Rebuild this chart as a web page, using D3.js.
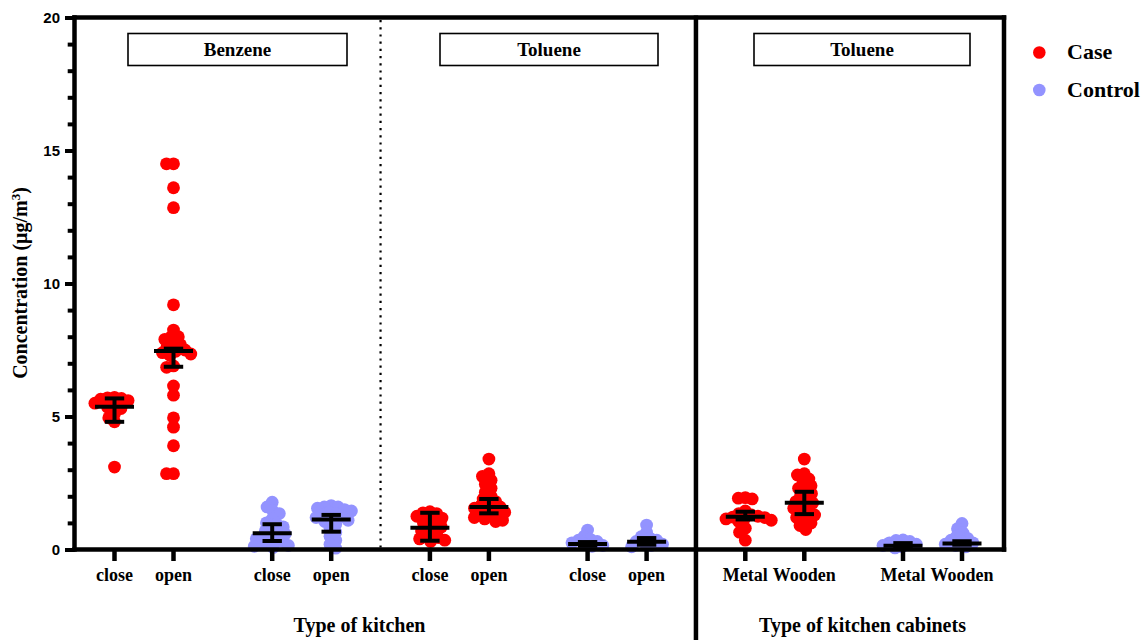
<!DOCTYPE html>
<html>
<head>
<meta charset="utf-8">
<script src="https://cdn.jsdelivr.net/npm/d3@7"></script>
<style>
  html, body { margin: 0; padding: 0; background: #fff; }
  svg { display: block; }
  .serif { font-family: "Liberation Serif", "Times New Roman", serif; font-weight: bold; }
  .sans { font-family: "Liberation Sans", Arial, sans-serif; font-weight: bold; }
</style>
</head>
<body>
<svg id="chart" width="1148" height="640"></svg>
<script>
// ---- data -------------------------------------------------------------
const yTicks = [0, 5, 10, 15, 20];
const yMinorTicks = d3.range(0, 21, 1);

const categoryLabels = ["close", "open", "close", "open", "close", "open", "close", "open",
                        "Metal", "Wooden", "Metal", "Wooden"];
const columnSeries = ["Case", "Case", "Control", "Control", "Case", "Case", "Control", "Control",
                      "Case", "Case", "Control", "Control"];
const pairGroups = ["g1", "g2", "g3", "g4", "g5", "g6"];
const seriesNames = ["Case", "Control"];
const panelTitles = ["Benzene", "Toluene", "Toluene"];
const axisTitles = ["Type of kitchen", "Type of kitchen cabinets"];

// Benzene (µg/m3) by kitchen type
const benzeneCaseClose = [5.72, 5.7, 5.68, 5.65, 5.6, 5.5, 5.4, 5.35, 5.3, 5.1, 4.95, 4.8, 3.1];
const benzeneCaseOpen = [14.5, 14.5, 13.6, 12.85, 9.2, 8.25, 8.0, 8.0, 7.9, 7.7, 7.7, 7.6, 7.5,
                         7.45, 7.4, 7.35, 7.3, 6.9, 6.85, 6.15, 5.8, 4.95, 4.6, 3.9, 2.85, 2.85];
const benzeneControlClose = [1.78, 1.6, 1.45, 1.35, 1.15, 1.0, 0.95, 0.85, 0.75, 0.7, 0.62, 0.58,
                             0.5, 0.45, 0.4, 0.35, 0.3, 0.25, 0.2, 0.15, 0.12, 0.08];
const benzeneControlOpen = [1.65, 1.6, 1.6, 1.55, 1.5, 1.45, 1.4, 1.35, 1.3, 1.25, 1.2, 1.15, 1.1,
                            1.05, 0.95, 0.8, 0.65, 0.5, 0.35, 0.2, 0.05];
// Toluene (µg/m3) by kitchen type
const tolueneCaseClose = [1.42, 1.38, 1.35, 1.25, 1.18, 1.1, 1.0, 0.9, 0.85, 0.8, 0.7, 0.6, 0.5,
                          0.45, 0.4, 0.35, 0.3];
const tolueneCaseOpen = [3.4, 2.85, 2.75, 2.6, 2.45, 2.3, 2.15, 2.0, 1.9, 1.8, 1.7, 1.65, 1.6, 1.55,
                         1.5, 1.45, 1.4, 1.35, 1.3, 1.25, 1.2, 1.15, 1.1, 1.05];
const tolueneControlClose = [0.73, 0.5, 0.38, 0.35, 0.3, 0.25, 0.2, 0.15, 0.12];
const tolueneControlOpen = [0.92, 0.65, 0.48, 0.42, 0.35, 0.3, 0.25, 0.2, 0.15, 0.1];
// Toluene (µg/m3) by kitchen cabinet material
const tolueneCaseMetal = [1.95, 1.93, 1.9, 1.45, 1.35, 1.3, 1.25, 1.22, 1.2, 1.18, 1.15, 1.1, 1.05,
                          0.8, 0.65, 0.35];
const tolueneCaseWooden = [3.4, 2.85, 2.8, 2.65, 2.5, 2.4, 2.3, 2.2, 2.1, 2.0, 1.9, 1.8, 1.75, 1.65,
                           1.55, 1.45, 1.35, 1.3, 1.2, 1.1, 1.0, 0.9, 0.75];
const tolueneControlMetal = [0.36, 0.34, 0.3, 0.25, 0.2, 0.15, 0.1, 0.06];
const tolueneControlWooden = [0.98, 0.78, 0.62, 0.5, 0.42, 0.35, 0.3, 0.25, 0.2, 0.15, 0.1];

// median with interquartile range for each column
const medians = [5.37, 7.46, 0.61, 1.13, 0.82, 1.60, 0.21, 0.29, 1.23, 1.76, 0.14, 0.23];
const lowerQuartiles = [4.80, 6.87, 0.32, 0.67, 0.33, 1.36, 0.14, 0.18, 1.13, 1.33, 0.08, 0.18];
const upperQuartiles = [5.68, 7.55, 0.95, 1.30, 1.38, 1.90, 0.28, 0.43, 1.42, 2.17, 0.24, 0.31];

const columns = [benzeneCaseClose, benzeneCaseOpen, benzeneControlClose, benzeneControlOpen,
                 tolueneCaseClose, tolueneCaseOpen, tolueneControlClose, tolueneControlOpen,
                 tolueneCaseMetal, tolueneCaseWooden, tolueneControlMetal, tolueneControlWooden];

// ---- layout -----------------------------------------------------------
const svg = d3.select("#chart");
const plot = { left: 74.5, right: 1004, top: 17.5, bottom: 549.5 };
const colors = { Case: "#FF0000", Control: "#9393FF" };
const pointRadius = 6.4;
const AXIS_W = 4.5;

const y = d3.scaleLinear().domain([0, 20]).range([plot.bottom, plot.top]);
const groupX = d3.scalePoint().domain(pairGroups).range([144, 932.5]);
const memberX = d3.scalePoint().domain([0, 1]).range([-29.5, 29.5]);
const colX = i => groupX(pairGroups[Math.floor(i / 2)]) + memberX(i % 2);
const color = d3.scaleOrdinal().domain(seriesNames).range([colors.Case, colors.Control]);

// scatter positions: points with close values are spread sideways
function swarm(values, D) {
  const pts = values.map(v => ({ v, py: y(v) })).sort((a, b) => a.py - b.py);
  const placed = [];
  for (const p of pts) {
    const near = placed.filter(q => Math.abs(q.py - p.py) < D);
    const cands = [0];
    near.forEach(q => {
      const dx = Math.sqrt(D * D - (q.py - p.py) ** 2);
      cands.push(q.dx + dx, q.dx - dx);
    });
    cands.sort((a, b) => Math.abs(a) - Math.abs(b) || a - b);
    let best = 0;
    for (const c of cands) {
      if (near.every(q => (q.dx - c) ** 2 + (q.py - p.py) ** 2 >= D * D - 1e-6)) { best = c; break; }
    }
    p.dx = best;
    placed.push(p);
  }
  return placed;
}

// ---- points -----------------------------------------------------------
const pointLayer = svg.append("g");
columns.forEach((vals, i) => {
  const pts = swarm(vals, 7);
  pointLayer.selectAll(null).data(pts).enter().append("circle")
    .attr("cx", d => colX(i) + d.dx)
    .attr("cy", d => y(d.v))
    .attr("r", pointRadius)
    .attr("fill", color(columnSeries[i]));
});

// ---- median + IQR -----------------------------------------------------
const bars = svg.append("g").attr("stroke", "#000").attr("stroke-width", 4);
columns.forEach((vals, i) => {
  const cx = colX(i);
  bars.append("line").attr("x1", cx).attr("x2", cx)
    .attr("y1", y(lowerQuartiles[i])).attr("y2", y(upperQuartiles[i]));
  [lowerQuartiles[i], upperQuartiles[i]].forEach(v => {
    bars.append("line").attr("x1", cx - 9.7).attr("x2", cx + 9.7).attr("y1", y(v)).attr("y2", y(v));
  });
  bars.append("line").attr("x1", cx - 19.5).attr("x2", cx + 19.5)
    .attr("y1", y(medians[i])).attr("y2", y(medians[i]));
});

// ---- separators -------------------------------------------------------
const dotX = (colX(3) + colX(4)) / 2;
svg.append("line").attr("x1", dotX).attr("x2", dotX).attr("y1", 20).attr("y2", plot.bottom - 2)
  .attr("stroke", "#000").attr("stroke-width", 2.2).attr("stroke-dasharray", "2.2,5");
const sepX = (colX(7) + colX(8)) / 2;
svg.append("line").attr("x1", sepX).attr("x2", sepX).attr("y1", plot.top - 2).attr("y2", 640)
  .attr("stroke", "#000").attr("stroke-width", AXIS_W);

// ---- frame and axes ---------------------------------------------------
const frame = svg.append("g").attr("stroke", "#000").attr("stroke-width", AXIS_W).attr("stroke-linecap", "square");
frame.append("line").attr("x1", plot.left).attr("x2", plot.right).attr("y1", plot.top).attr("y2", plot.top);
frame.append("line").attr("x1", plot.right).attr("x2", plot.right).attr("y1", plot.top).attr("y2", plot.bottom);
frame.append("line").attr("x1", plot.left).attr("x2", plot.right).attr("y1", plot.bottom).attr("y2", plot.bottom);
frame.append("line").attr("x1", plot.left).attr("x2", plot.left).attr("y1", plot.top).attr("y2", plot.bottom);

const yMinor = svg.append("g").attr("transform", `translate(${plot.left},0)`)
  .call(d3.axisLeft(y).tickValues(yMinorTicks).tickSize(6.8).tickFormat(""));
yMinor.select(".domain").remove();
yMinor.selectAll(".tick line").attr("stroke-width", 4);

const yAxis = svg.append("g").attr("transform", `translate(${plot.left},0)`)
  .call(d3.axisLeft(y).tickValues(yTicks).tickSize(9.5).tickPadding(5));
yAxis.select(".domain").remove();
yAxis.selectAll(".tick line").attr("stroke-width", 4);
yAxis.selectAll(".tick text").attr("class", "sans").attr("font-size", 15).attr("fill", "#000");

// category ticks and labels
const xTicks = svg.append("g");
categoryLabels.forEach((lab, i) => {
  const cx = colX(i);
  xTicks.append("line").attr("x1", cx).attr("x2", cx).attr("y1", plot.bottom).attr("y2", 561)
    .attr("stroke", "#000").attr("stroke-width", AXIS_W);
  xTicks.append("text").attr("class", "serif").attr("x", cx).attr("y", 581)
    .attr("text-anchor", "middle").attr("font-size", 18).text(lab);
});

// ---- panel title boxes ------------------------------------------------
const panelBoxes = [[128, 347], [440, 658], [754, 970]];
panelTitles.forEach((t, i) => {
  const [x0, x1] = panelBoxes[i];
  svg.append("rect").attr("x", x0).attr("y", 33.5).attr("width", x1 - x0).attr("height", 32)
    .attr("fill", "#fff").attr("stroke", "#000").attr("stroke-width", 1.6);
  svg.append("text").attr("class", "serif").attr("x", (x0 + x1) / 2).attr("y", 56)
    .attr("text-anchor", "middle").attr("font-size", 19).text(t);
});

// ---- axis titles ------------------------------------------------------
svg.append("text").attr("class", "serif").attr("x", 359.5).attr("y", 632)
  .attr("text-anchor", "middle").attr("font-size", 20).text(axisTitles[0]);
svg.append("text").attr("class", "serif").attr("x", 862.5).attr("y", 632)
  .attr("text-anchor", "middle").attr("font-size", 20).text(axisTitles[1]);

const yTitle = svg.append("text").attr("class", "serif")
  .attr("transform", "translate(27,283) rotate(-90)")
  .attr("text-anchor", "middle").attr("font-size", 20);
yTitle.append("tspan").text("Concentration (μg/m");
yTitle.append("tspan").attr("dy", -7).attr("font-size", 13).text("3");
yTitle.append("tspan").attr("dy", 7).text(")");

// ---- legend -----------------------------------------------------------
seriesNames.forEach((s, i) => {
  const ly = 52.5 + i * 37.5;
  svg.append("circle").attr("cx", 1039.3).attr("cy", ly).attr("r", 6.3).attr("fill", color(s));
  svg.append("text").attr("class", "serif").attr("x", 1067).attr("y", ly + 6.5)
    .attr("font-size", 22).text(s);
});
</script>
</body>
</html>
